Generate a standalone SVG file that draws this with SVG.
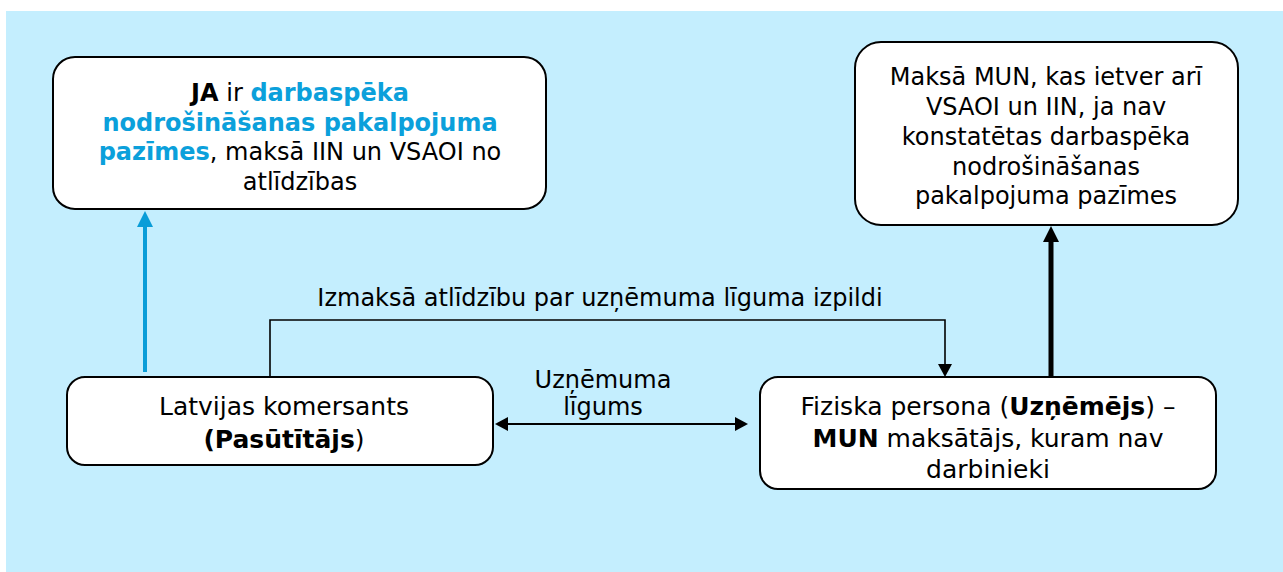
<svg xmlns="http://www.w3.org/2000/svg" width="1283" height="572" viewBox="0 0 1283 572">
<style>
  .box { fill: #ffffff; stroke: #000000; stroke-width: 2; }
  .t { font-family: "DejaVu Sans", Verdana, "Liberation Sans", sans-serif; font-size: 24px; fill: #000000; text-anchor: middle; }
  .lg { font-size: 25px; }
  .b { font-weight: bold; }
  .blue { fill: #0BA0DB; }
  .thin { fill: none; stroke: #000000; stroke-width: 1.6; }
</style>
<defs>
  <marker id="hBlue" markerUnits="userSpaceOnUse" markerWidth="16" markerHeight="16" refX="0" refY="8" orient="auto">
    <path d="M0,0 L16,8 L0,16 z" fill="#0A9DD8"/>
  </marker>
  <marker id="hThick" markerUnits="userSpaceOnUse" markerWidth="16" markerHeight="16" refX="0" refY="8" orient="auto">
    <path d="M0,0 L16,8 L0,16 z" fill="#000000"/>
  </marker>
  <marker id="hThin" markerUnits="userSpaceOnUse" markerWidth="14" markerHeight="14" refX="0" refY="7" orient="auto">
    <path d="M0,0 L13,7 L0,14 z" fill="#000000"/>
  </marker>
  <marker id="hThinStart" markerUnits="userSpaceOnUse" markerWidth="14" markerHeight="14" refX="13" refY="7" orient="auto">
    <path d="M13,0 L0,7 L13,14 z" fill="#000000"/>
  </marker>
</defs>

<rect x="6" y="11" width="1277" height="561" fill="#C4EEFE"/>

<g id="connectors">
  <line x1="145" y1="372" x2="145" y2="227" stroke="#0A9DD8" stroke-width="4" marker-end="url(#hBlue)"/>
  <line x1="1051" y1="377" x2="1051" y2="242" stroke="#000000" stroke-width="5" marker-end="url(#hThick)"/>
  <path class="thin" d="M270,377 V320 H945 V364" marker-end="url(#hThin)"/>
  <line x1="508" y1="424" x2="735" y2="424" stroke="#000000" stroke-width="2" marker-start="url(#hThinStart)" marker-end="url(#hThin)"/>
  <text class="t" x="600" y="306">Izmaksā atlīdzību par uzņēmuma līguma izpildi</text>
  <text class="t" x="603" y="388">Uzņēmuma</text>
  <text class="t" x="603" y="415">līgums</text>
</g>

<g id="node-ja">
  <rect class="box" x="53" y="57" width="493" height="152" rx="22"/>
  <text class="t" x="300" y="101"><tspan class="b">JA</tspan> ir <tspan class="b blue">darbaspēka</tspan></text>
  <text class="t b blue" x="300" y="131">nodrošināšanas pakalpojuma</text>
  <text class="t" x="300" y="160"><tspan class="b blue">pazīmes</tspan>, maksā IIN un VSAOI no</text>
  <text class="t" x="300" y="190">atlīdzības</text>
</g>

<g id="node-mun">
  <rect class="box" x="855" y="42" width="383" height="183" rx="26"/>
  <text class="t" x="1046" y="85">Maksā MUN, kas ietver arī</text>
  <text class="t" x="1046" y="115">VSAOI un IIN, ja nav</text>
  <text class="t" x="1046" y="145">konstatētas darbaspēka</text>
  <text class="t" x="1046" y="175">nodrošināšanas</text>
  <text class="t" x="1046" y="204">pakalpojuma pazīmes</text>
</g>

<g id="node-pasutitajs">
  <rect class="box" x="67" y="377" width="426" height="88" rx="18"/>
  <text class="t lg" x="284" y="415">Latvijas komersants</text>
  <text class="t lg" x="284" y="448"><tspan class="b">(Pasūtītājs</tspan>)</text>
</g>

<g id="node-uznemejs">
  <rect class="box" x="760" y="377" width="456" height="112" rx="18"/>
  <text class="t lg" x="988" y="415">Fiziska persona (<tspan class="b">Uzņēmējs</tspan>) –</text>
  <text class="t lg" x="988" y="447"><tspan class="b">MUN</tspan> maksātājs, kuram nav</text>
  <text class="t lg" x="988" y="478">darbinieki</text>
</g>
</svg>
